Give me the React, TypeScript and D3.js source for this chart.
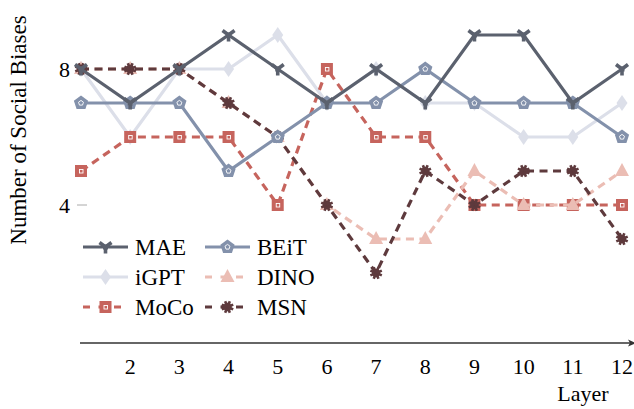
import React from "react";
import * as d3 from "d3";

const layers = [1, 2, 3, 4, 5, 6, 7, 8, 9, 10, 11, 12];
const xTicks = [2, 3, 4, 5, 6, 7, 8, 9, 10, 11, 12];
const yTicks = [4, 8];

const maeValues = [8, 7, 8, 9, 8, 7, 8, 7, 9, 9, 7, 8];
const beitValues = [7, 7, 7, 5, 6, 7, 7, 8, 7, 7, 7, 6];
const igptValues = [8, 6, 8, 8, 9, 7, 8, 7, 7, 6, 6, 7];
const dinoValues = [8, 8, 8, 7, 6, 4, 3, 3, 5, 4, 4, 5];
const mocoValues = [5, 6, 6, 6, 4, 8, 6, 6, 4, 4, 4, 4];
const msnValues = [8, 8, 8, 7, 6, 4, 2, 5, 4, 5, 5, 3];

type MarkerKind = "tri" | "pent" | "diamond" | "triangle" | "square" | "ast";

interface Series {
  name: string;
  values: number[];
  color: string;
  dashed: boolean;
  marker: MarkerKind;
}

const series: Series[] = [
  { name: "MAE", values: maeValues, color: "#5b616e", dashed: false, marker: "tri" },
  { name: "BEiT", values: beitValues, color: "#8391ab", dashed: false, marker: "pent" },
  { name: "iGPT", values: igptValues, color: "#dcdfe9", dashed: false, marker: "diamond" },
  { name: "DINO", values: dinoValues, color: "#ebbdb4", dashed: true, marker: "triangle" },
  { name: "MoCo", values: mocoValues, color: "#c6645d", dashed: true, marker: "square" },
  { name: "MSN", values: msnValues, color: "#5e3a3d", dashed: true, marker: "ast" },
];

const drawOrder = ["iGPT", "MoCo", "DINO", "MSN", "BEiT", "MAE"];

function Marker({ kind, x, y, color }: { kind: MarkerKind; x: number; y: number; color: string }) {
  const t = `translate(${x},${y})`;
  if (kind === "tri") {
    return (
      <g transform={t}>
        <path d="M0,0 L0,6.5 M0,0 L-6,-4.5 M0,0 L6,-4.5" stroke={color} strokeWidth={3.6} fill="none" strokeLinecap="butt" />
        <rect x={-2.5} y={-2.5} width={5} height={5} fill={color} />
      </g>
    );
  }
  if (kind === "pent") {
    const pts = (r: number) =>
      d3.range(5).map((i) => {
        const a = -Math.PI / 2 + (i * 2 * Math.PI) / 5;
        return [r * Math.cos(a), r * Math.sin(a)];
      });
    return (
      <g transform={t}>
        <polygon points={pts(7.5).map((p) => p.join(",")).join(" ")} fill={color} />
        <polygon points={pts(2.6).map((p) => p.join(",")).join(" ")} fill="none" stroke="#ffffff" strokeWidth={0.9} />
      </g>
    );
  }
  if (kind === "diamond") {
    return (
      <g transform={t}>
        <polygon points="0,-8 5.5,0 0,8 -5.5,0" fill={color} />
      </g>
    );
  }
  if (kind === "triangle") {
    return (
      <g transform={t}>
        <polygon points="0,-8 7,5 -7,5" fill={color} />
      </g>
    );
  }
  if (kind === "square") {
    return (
      <g transform={t}>
        <rect x={-6} y={-6} width={12} height={12} fill={color} />
        <rect x={-1.5} y={-1.5} width={3.5} height={3.5} fill="none" stroke="#ffffff" strokeWidth={0.9} />
      </g>
    );
  }
  return (
    <g transform={t}>
      <circle r={4.2} fill={color} />
      {d3.range(8).map((i) => {
        const a = (i * Math.PI) / 4 + Math.PI / 8;
        return (
          <line key={i} x1={0} y1={0} x2={6.2 * Math.cos(a)} y2={6.2 * Math.sin(a)} stroke={color} strokeWidth={2.6} />
        );
      })}
    </g>
  );
}

export default function App() {
  const width = 634;
  const height = 409;
  const x = d3.scaleLinear().domain([1, 12]).range([81, 622]);
  const y = d3.scaleLinear().domain([4, 8]).range([205, 69]);
  const line = d3
    .line<number>()
    .x((_, i) => x(layers[i]))
    .y((d) => y(d));

  const font = '"Liberation Serif", "Times New Roman", Times, "DejaVu Serif", serif';
  const ordered = drawOrder.map((n) => series.find((s) => s.name === n)!);

  const legendRows = [247, 277, 307];
  const legendCols = [
    { x0: 83, x1: 128, tx: 135 },
    { x0: 205, x1: 250, tx: 257 },
  ];

  return (
    <svg
      width={width}
      height={height}
      style={{ position: "absolute", left: 0, top: 0, background: "#fff", fontFamily: font }}
    >
      <rect width={width} height={height} fill="#ffffff" />
      <text
        transform={`translate(26,${130}) rotate(-90)`}
        textAnchor="middle"
        fontSize={23}
        fill="#000"
        style={{ fontFamily: font }}
      >
        Number of Social Biases
      </text>
      {yTicks.map((t) => (
        <g key={t}>
          <text x={70} y={y(t)} dy="0.35em" textAnchor="end" fontSize={22} fill="#000" style={{ fontFamily: font }}>
            {t}
          </text>
          <line x1={77} x2={87} y1={y(t)} y2={y(t)} stroke="#aaaaaa" strokeWidth={1} />
        </g>
      ))}
      <line x1={80} x2={632} y1={343} y2={343} stroke="#333" strokeWidth={1.3} />
      <path d="M636,343 L628,339.5 L630,343 L628,346.5 Z" fill="#333" />
      {xTicks.map((t) => (
        <text key={t} x={x(t)} y={374} textAnchor="middle" fontSize={22} fill="#000" style={{ fontFamily: font }}>
          {t}
        </text>
      ))}
      <text x={583} y={401} textAnchor="middle" fontSize={22} fill="#000" style={{ fontFamily: font }}>
        Layer
      </text>
      {ordered.map((s) => (
        <g key={s.name}>
          <path
            d={line(s.values) || ""}
            fill="none"
            stroke={s.color}
            strokeWidth={3.2}
            strokeDasharray={s.dashed ? "8,5.5" : undefined}
            strokeLinejoin="miter"
          />
          {s.values.map((v, i) => (
            <Marker key={i} kind={s.marker} x={x(layers[i])} y={y(v)} color={s.color} />
          ))}
        </g>
      ))}
      {series.map((s, i) => {
        const row = legendRows[Math.floor(i / 2)];
        const col = legendCols[i % 2];
        const mid = (col.x0 + col.x1) / 2;
        return (
          <g key={s.name}>
            <line
              x1={col.x0}
              x2={col.x1}
              y1={row}
              y2={row}
              stroke={s.color}
              strokeWidth={3.2}
              strokeDasharray={s.dashed ? "7,8.5" : undefined}
            />
            <Marker kind={s.marker} x={mid} y={row} color={s.color} />
            <text x={col.tx} y={row} dy="0.33em" fontSize={23} fill="#000" style={{ fontFamily: font }}>
              {s.name}
            </text>
          </g>
        );
      })}
    </svg>
  );
}
